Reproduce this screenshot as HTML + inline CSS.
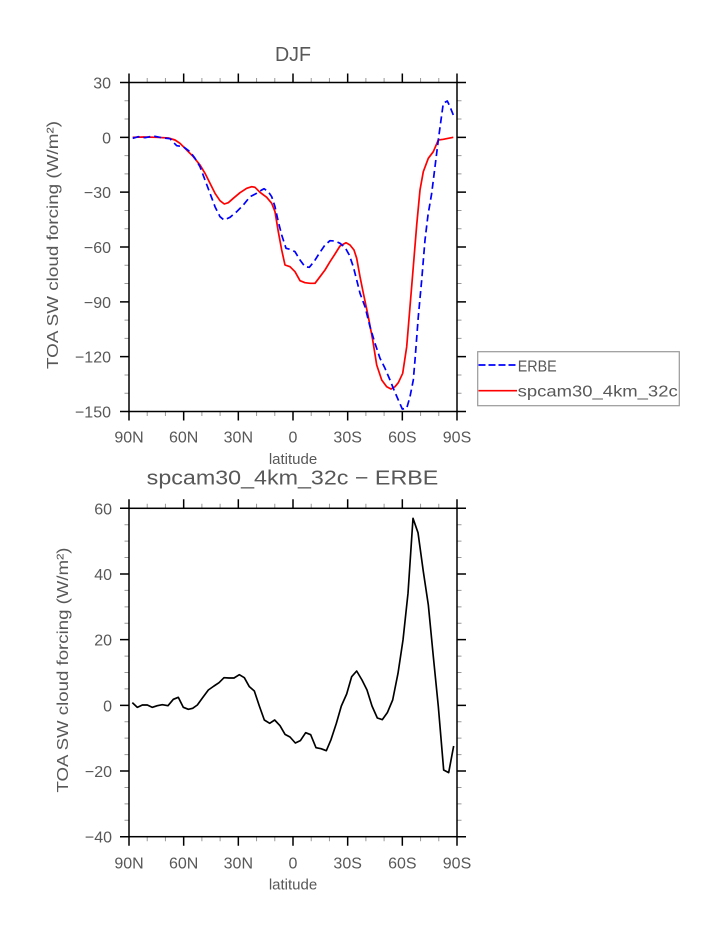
<!DOCTYPE html>
<html>
<head>
<meta charset="utf-8">
<style>
html,body{margin:0;padding:0;background:#fff;}
svg{display:block;}
text{font-family:"Liberation Sans",sans-serif;fill:#585858;}
</style>
</head>
<body>
<svg width="723" height="935" viewBox="0 0 723 935" xmlns="http://www.w3.org/2000/svg">
<rect width="723" height="935" fill="#fff"/>

<!-- ============ TOP PLOT ============ -->
<text x="293" y="61" font-size="20" text-anchor="middle" textLength="36" lengthAdjust="spacingAndGlyphs">DJF</text>

<!-- minor ticks -->
<path fill="none" stroke="#999" stroke-width="1" d="
M147.22 82.5v-4.5M165.44 82.5v-4.5M201.89 82.5v-4.5M220.11 82.5v-4.5M256.56 82.5v-4.5M274.78 82.5v-4.5M311.22 82.5v-4.5M329.44 82.5v-4.5M365.89 82.5v-4.5M384.11 82.5v-4.5M420.56 82.5v-4.5M438.78 82.5v-4.5
M147.22 411.5v4.5M165.44 411.5v4.5M201.89 411.5v4.5M220.11 411.5v4.5M256.56 411.5v4.5M274.78 411.5v4.5M311.22 411.5v4.5M329.44 411.5v4.5M365.89 411.5v4.5M384.11 411.5v4.5M420.56 411.5v4.5M438.78 411.5v4.5
M129 100.78h-4.5M129 119.06h-4.5M129 155.61h-4.5M129 173.89h-4.5M129 210.44h-4.5M129 228.72h-4.5M129 265.28h-4.5M129 283.56h-4.5M129 320.11h-4.5M129 338.39h-4.5M129 374.94h-4.5M129 393.22h-4.5
M457 100.78h4.5M457 119.06h4.5M457 155.61h4.5M457 173.89h4.5M457 210.44h4.5M457 228.72h4.5M457 265.28h4.5M457 283.56h4.5M457 320.11h4.5M457 338.39h4.5M457 374.94h4.5M457 393.22h4.5"/>
<!-- major ticks -->
<path fill="none" stroke="#000" stroke-width="1.5" d="
M129 82.5v-9M183.67 82.5v-9M238.33 82.5v-9M293 82.5v-9M347.67 82.5v-9M402.33 82.5v-9M457 82.5v-9
M129 411.5v9M183.67 411.5v9M238.33 411.5v9M293 411.5v9M347.67 411.5v9M402.33 411.5v9M457 411.5v9
M129 82.5h-9M129 137.33h-9M129 192.17h-9M129 247h-9M129 301.83h-9M129 356.67h-9M129 411.5h-9
M457 82.5h9M457 137.33h9M457 192.17h9M457 247h9M457 301.83h9M457 356.67h9M457 411.5h9"/>

<!-- series -->
<polyline fill="none" stroke="#ff0000" stroke-width="1.7" stroke-linejoin="round" points="132.7,137.3 143.3,137 156.7,137.3 168.3,138 175,140 180,143.3 186.7,150 193.3,156.7 200,165 205,173.3 210,183.3 215,193.3 220,200.7 224.3,204 228.3,202.7 233.3,198.3 240,192.7 246.7,188.3 251.7,186.7 255,187.3 260,192.3 266.7,197.3 271.7,203.3 275,211.7 278.3,231.7 281.7,250 285,265 290,266.7 295,271.7 300,280.7 305,282.7 310,283.3 315,283.3 320,276.7 325,270 330,261.7 335,254 340,246 346,242.7 350,245 354,250 356.7,258.3 360,276.7 363.3,293 368.3,316.7 372.7,340 376.7,365 381.7,380 386.7,386.7 391,389 395,386.7 398.3,382.7 402.7,373.3 406.7,346.7 410,306.7 413.3,266.7 416.7,225 420,190 423.3,171.7 428.3,158.3 433.3,151.7 438.3,140 443.3,139.3 448.3,138.3 453.3,137.3"/>
<polyline fill="none" stroke="#0000ff" stroke-width="1.7" stroke-dasharray="7,4" stroke-linejoin="round" points="132.7,138.3 138.3,136.7 145,137.7 153.3,136 161.7,137.7 170,138.7 176.7,145.7 183.3,146.7 190,151.7 195,158.3 200,166.7 205,180 210,193.3 215,206.7 220,216.7 224,220 230,217.3 236.7,211.7 243.3,205 250,196.7 256.7,193.3 261.7,190 264,188.7 268.3,191.7 271.7,196.7 275,206.7 278.3,221.7 281.7,235 286,248.3 290,249.3 295,251.7 300,260 305,266.7 309.3,267.3 314,261.7 319.3,253.3 325,245 330,240.7 335,241 340,243.3 345,247.3 349.3,255 353.3,266.7 356.7,280 360,293.3 365,306.7 370,326.7 375,343.3 380,358.3 385,368.3 390,380 394,390 398.3,400 402.3,409 406.7,408.3 410,396.7 413.3,380 415,360 418.3,316.7 421.7,280 425,240 428,215 431.7,193.3 435,166.7 438.3,140 441,120 443.3,103.3 447.3,101 450,106.7 453.3,115"/>

<!-- frame -->
<rect x="129" y="82.5" width="328" height="329" fill="none" stroke="#000" stroke-width="1.5"/>

<!-- y tick labels -->
<g font-size="16" text-anchor="end">
<text x="111" y="88.5">30</text>
<text x="111" y="143.3">0</text>
<text x="111" y="198.2">−30</text>
<text x="111" y="253">−60</text>
<text x="111" y="307.8">−90</text>
<text x="111" y="362.7">−120</text>
<text x="111" y="417.5">−150</text>
</g>
<!-- x tick labels -->
<g font-size="16" text-anchor="middle">
<text x="129" y="442.5">90N</text>
<text x="183.67" y="442.5">60N</text>
<text x="238.33" y="442.5">30N</text>
<text x="293" y="442.5">0</text>
<text x="347.67" y="442.5">30S</text>
<text x="402.33" y="442.5">60S</text>
<text x="457" y="442.5">90S</text>
</g>
<text x="293" y="464" font-size="15" text-anchor="middle">latitude</text>
<text transform="translate(58 245) rotate(-90)" font-size="16" text-anchor="middle" textLength="248" lengthAdjust="spacingAndGlyphs">TOA SW cloud forcing (W/m²)</text>

<!-- legend -->
<rect x="477.7" y="351.7" width="201.6" height="54" fill="#fff" stroke="#999" stroke-width="1.2"/>
<line x1="478.5" y1="365" x2="517" y2="365" stroke="#0000ff" stroke-width="1.7" stroke-dasharray="7,3"/>
<line x1="478.5" y1="390.7" x2="517" y2="390.7" stroke="#ff0000" stroke-width="1.7"/>
<text x="517.7" y="371.7" font-size="16" textLength="39" lengthAdjust="spacingAndGlyphs">ERBE</text>
<text x="517.7" y="396.5" font-size="16" textLength="160" lengthAdjust="spacingAndGlyphs">spcam30_4km_32c</text>

<!-- ============ BOTTOM PLOT ============ -->
<text x="146.7" y="484.5" font-size="20" textLength="291.6" lengthAdjust="spacingAndGlyphs">spcam30_4km_32c − ERBE</text>

<path fill="none" stroke="#999" stroke-width="1" d="
M147.22 508.3v-4.5M165.44 508.3v-4.5M201.89 508.3v-4.5M220.11 508.3v-4.5M256.56 508.3v-4.5M274.78 508.3v-4.5M311.22 508.3v-4.5M329.44 508.3v-4.5M365.89 508.3v-4.5M384.11 508.3v-4.5M420.56 508.3v-4.5M438.78 508.3v-4.5
M147.22 836.7v4.5M165.44 836.7v4.5M201.89 836.7v4.5M220.11 836.7v4.5M256.56 836.7v4.5M274.78 836.7v4.5M311.22 836.7v4.5M329.44 836.7v4.5M365.89 836.7v4.5M384.11 836.7v4.5M420.56 836.7v4.5M438.78 836.7v4.5
M129 524.72h-4.5M129 541.14h-4.5M129 557.56h-4.5M129 590.4h-4.5M129 606.82h-4.5M129 623.24h-4.5M129 656.08h-4.5M129 672.5h-4.5M129 688.92h-4.5M129 721.76h-4.5M129 738.18h-4.5M129 754.6h-4.5M129 787.44h-4.5M129 803.86h-4.5M129 820.28h-4.5
M457 524.72h4.5M457 541.14h4.5M457 557.56h4.5M457 590.4h4.5M457 606.82h4.5M457 623.24h4.5M457 656.08h4.5M457 672.5h4.5M457 688.92h4.5M457 721.76h4.5M457 738.18h4.5M457 754.6h4.5M457 787.44h4.5M457 803.86h4.5M457 820.28h4.5"/>
<path fill="none" stroke="#000" stroke-width="1.5" d="
M129 508.3v-9M183.67 508.3v-9M238.33 508.3v-9M293 508.3v-9M347.67 508.3v-9M402.33 508.3v-9M457 508.3v-9
M129 836.7v9M183.67 836.7v9M238.33 836.7v9M293 836.7v9M347.67 836.7v9M402.33 836.7v9M457 836.7v9
M129 508.3h-9M129 573.98h-9M129 639.66h-9M129 705.34h-9M129 771.02h-9M129 836.7h-9
M457 508.3h9M457 573.98h9M457 639.66h9M457 705.34h9M457 771.02h9M457 836.7h9"/>

<g transform="translate(110 490) scale(0.333333)">
<polyline fill="none" stroke="#000" stroke-width="5" stroke-linejoin="round" points="67,638 82,652 97,645 112,645 127,652 142,647 157,644 174,647 190,628 205,622 220,652 235,658 248,655 262,645 278,623 295,600 312,588 327,578 342,563 357,564 372,564 388,554 403,563 418,590 433,603 448,648 463,690 479,700 494,690 510,707 525,733 540,741 556,759 571,752 587,728 602,734 618,773 633,776 649,782 663,749 679,700 694,648 710,612 725,560 740,543 756,570 771,600 786,648 802,684 817,689 832,668 848,630 864,550 879,450 894,310 909,85 924,128 940,245 955,345 970,500 985,650 1001,840 1016,848 1031,768"/>
</g>

<rect x="129" y="508.3" width="328" height="328.4" fill="none" stroke="#000" stroke-width="1.5"/>

<g font-size="16" text-anchor="end">
<text x="112" y="514.3">60</text>
<text x="112" y="580">40</text>
<text x="112" y="645.7">20</text>
<text x="112" y="711.3">0</text>
<text x="112" y="777">−20</text>
<text x="112" y="842.7">−40</text>
</g>
<g font-size="16" text-anchor="middle">
<text x="129" y="868.3">90N</text>
<text x="183.67" y="868.3">60N</text>
<text x="238.33" y="868.3">30N</text>
<text x="293" y="868.3">0</text>
<text x="347.67" y="868.3">30S</text>
<text x="402.33" y="868.3">60S</text>
<text x="457" y="868.3">90S</text>
</g>
<text x="293" y="889.3" font-size="15" text-anchor="middle">latitude</text>
<text transform="translate(68 670) rotate(-90)" font-size="16" text-anchor="middle" textLength="245" lengthAdjust="spacingAndGlyphs">TOA SW cloud forcing (W/m²)</text>
</svg>
</body>
</html>
